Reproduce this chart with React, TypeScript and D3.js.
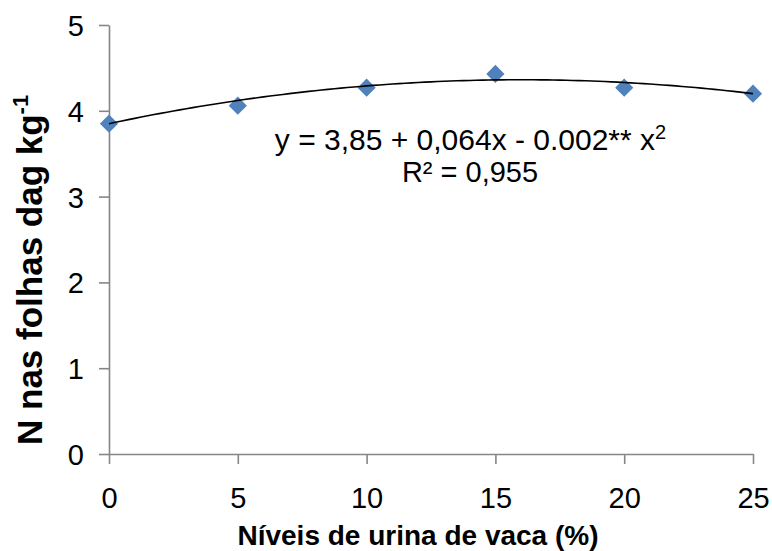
import React, { useEffect, useRef } from "react";
import * as d3 from "d3";

const xValues = [0, 5, 10, 15, 20, 25];
const yValues = [3.85, 4.06, 4.27, 4.43, 4.27, 4.2];
const xTicks = [0, 5, 10, 15, 20, 25];
const yTicks = [0, 1, 2, 3, 4, 5];
const coefficients = [3.85, 0.064, -0.002];
const xTitle = "Níveis de urina de vaca (%)";
const yTitleMain = "N nas folhas dag kg";
const yTitleSup = "-1";
const eqLine1 = "y = 3,85 + 0,064x - 0.002** x";
const eqLine1Sup = "2";
const eqLine2 = "R² = 0,955";

const W = 772;
const H = 551;
const FONT = "'Liberation Sans', Arial, sans-serif";

export default function App() {
  const ref = useRef<SVGSVGElement>(null);

  useEffect(() => {
    const svg = d3.select(ref.current);
    svg.selectAll("*").remove();

    const x = d3.scaleLinear().domain([0, 25]).range([109, 753]);
    const y = d3.scaleLinear().domain([0, 5]).range([454, 25]);
    const axisColor = "#868686";

    const gx = svg
      .append("g")
      .attr("transform", `translate(0,${y(0)})`)
      .call(d3.axisBottom(x).tickValues(xTicks).tickSize(10).tickSizeOuter(0).tickFormat(d3.format("d")));
    const gy = svg
      .append("g")
      .attr("transform", `translate(${x(0)},0)`)
      .call(d3.axisLeft(y).tickValues(yTicks).tickSize(10).tickSizeOuter(0).tickPadding(15).tickFormat(d3.format("d")));

    [gx, gy].forEach((g) => {
      g.select(".domain").attr("stroke", axisColor).attr("stroke-width", 1.6);
      g.selectAll(".tick line").attr("stroke", axisColor).attr("stroke-width", 1.6);
      g.selectAll(".tick text")
        .attr("fill", "#000")
        .style("font-family", FONT)
        .style("font-size", "29px");
    });
    gx.selectAll(".tick text").attr("y", 54).attr("dy", 0);
    gy.selectAll(".tick text").attr("dy", "0.36em");
    gx.attr("font-family", null).attr("font-size", null);
    gy.attr("font-family", null).attr("font-size", null);

    // markers
    const diamond = d3.symbol().type(d3.symbolSquare).size(165);
    svg
      .append("g")
      .selectAll("path")
      .data(xValues.map((v, i) => [v, yValues[i]]))
      .join("path")
      .attr("d", diamond)
      .attr("transform", (d) => `translate(${x(d[0])},${y(d[1])}) rotate(45)`)
      .attr("fill", "#4F81BD");

    // trend line from regression coefficients
    const xs = d3.range(0, 25.001, 0.25);
    const curve = xs.map((v) => [v, coefficients[0] + coefficients[1] * v + coefficients[2] * v * v]);
    const line = d3
      .line<number[]>()
      .x((d) => x(d[0]))
      .y((d) => y(d[1]));
    svg
      .append("path")
      .attr("d", line(curve))
      .attr("fill", "none")
      .attr("stroke", "#000")
      .attr("stroke-width", 1.6);

    // equation
    const eq = svg.append("g").style("font-family", FONT).attr("fill", "#000");
    const t1 = eq
      .append("text")
      .attr("x", 470.5)
      .attr("y", 150)
      .attr("text-anchor", "middle")
      .style("font-size", "30px");
    t1.append("tspan").text(eqLine1);
    t1.append("tspan").attr("dy", -11).style("font-size", "20px").text(eqLine1Sup);
    eq.append("text")
      .attr("x", 470)
      .attr("y", 182)
      .attr("text-anchor", "middle")
      .style("font-size", "29px")
      .text(eqLine2);

    // axis titles
    svg
      .append("text")
      .attr("x", 418)
      .attr("y", 545)
      .attr("text-anchor", "middle")
      .style("font-family", FONT)
      .style("font-size", "28px")
      .style("font-weight", "bold")
      .attr("fill", "#000")
      .text(xTitle);

    const yt = svg
      .append("text")
      .attr("transform", "translate(42,445) rotate(-90)")
      .attr("text-anchor", "start")
      .style("font-family", FONT)
      .style("font-size", "35px")
      .style("font-weight", "bold")
      .attr("fill", "#000");
    yt.append("tspan").text(yTitleMain);
    yt.append("tspan").attr("dy", -14).style("font-size", "22px").text(yTitleSup);
  }, []);

  return (
    <svg
      ref={ref}
      width={W}
      height={H}
      style={{ position: "absolute", left: 0, top: 0, background: "#fff" }}
    />
  );
}
